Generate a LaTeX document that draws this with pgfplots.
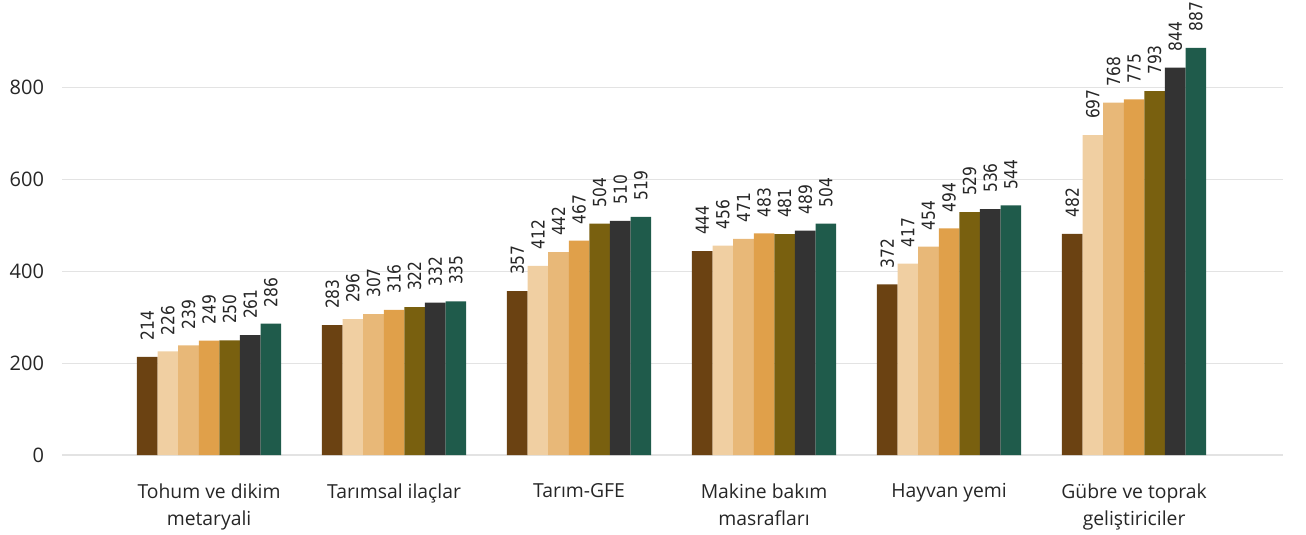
\documentclass[border=0pt]{standalone}
\usepackage{fontspec}
\setmainfont{Open Sans}
\newfontfamily\lblfont[FakeStretch=0.86]{DejaVu Sans}
\usepackage{pgfplots}
\pgfplotsset{compat=1.18}
\definecolor{c1}{HTML}{6B4212}
\definecolor{c2}{HTML}{F0CFA2}
\definecolor{c3}{HTML}{E8B878}
\definecolor{c4}{HTML}{E0A04A}
\definecolor{c5}{HTML}{79600F}
\definecolor{c6}{HTML}{333333}
\definecolor{c7}{HTML}{1F5B4B}
\definecolor{gridc}{HTML}{E3E3E3}
\begin{document}
\begin{tikzpicture}
\begin{axis}[
  scale only axis,
  width=915.75pt, height=327pt,
  ymin=0, ymax=950,
  xmin=-0.795, xmax=5.805,
  ybar=0pt, bar width=15.45pt,
  axis line style={draw=none},
  ytick={0,200,400,600,800},
  ymajorgrids, grid style={gridc, line width=0.9pt},
  major tick length=0pt,
  xtick={0,1,2,3,4,5},
  xticklabels={{Tohum ve dikim\\metaryali},{Tarımsal ilaçlar},{Tarım-GFE},{Makine bakım\\masrafları},{Hayvan yemi},{Gübre ve toprak\\geliştiriciler}},
  xticklabel style={align=center, font=\fontsize{14.5}{20.5}\selectfont, text=black!85, yshift=-18pt},
  yticklabel style={font=\fontsize{15}{17}\selectfont, text=black!85, xshift=-10pt},
  /pgf/number format/assume math mode=true,
  clip=false,
  nodes near coords,
  every node near coord/.append style={font=\lblfont\fontsize{13.5}{15}\selectfont, text=black!85, anchor=west, rotate=90, inner sep=0pt, xshift=12pt},
]
\addplot[fill=c1, draw=none] coordinates {(0,214) (1,283) (2,357) (3,444) (4,372) (5,482)};
\addplot[fill=c2, draw=none] coordinates {(0,226) (1,296) (2,412) (3,456) (4,417) (5,697)};
\addplot[fill=c3, draw=none] coordinates {(0,239) (1,307) (2,442) (3,471) (4,454) (5,768)};
\addplot[fill=c4, draw=none] coordinates {(0,249) (1,316) (2,467) (3,483) (4,494) (5,775)};
\addplot[fill=c5, draw=none] coordinates {(0,250) (1,322) (2,504) (3,481) (4,529) (5,793)};
\addplot[fill=c6, draw=none] coordinates {(0,261) (1,332) (2,510) (3,489) (4,536) (5,844)};
\addplot[fill=c7, draw=none] coordinates {(0,286) (1,335) (2,519) (3,504) (4,544) (5,887)};
\end{axis}
\pgfresetboundingbox
\path[use as bounding box] (-46.5pt,-60pt) rectangle (933pt,341.25pt);
\end{tikzpicture}
\end{document}
